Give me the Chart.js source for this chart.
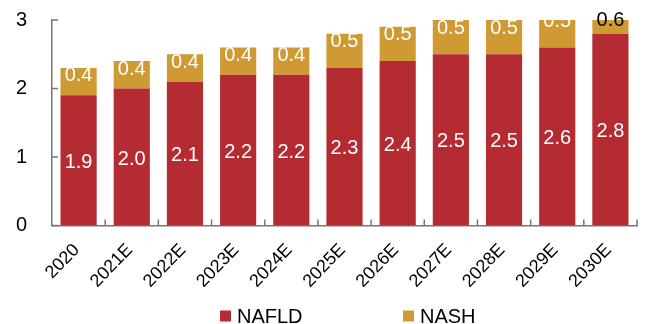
<!DOCTYPE html>
<html>
<head>
<meta charset="utf-8">
<script src="https://cdn.jsdelivr.net/npm/chart.js@4.4.0/dist/chart.umd.min.js"></script>
<style>
  html, body { margin: 0; padding: 0; background: #fff; }
  #wrap { width: 645px; height: 324px; }
</style>
</head>
<body>
<div id="wrap"><canvas id="myChart"></canvas></div>
<script>
// Categories and series values
var years = ['2020', '2021E', '2022E', '2023E', '2024E', '2025E', '2026E', '2027E', '2028E', '2029E', '2030E'];
var nafld = [1.9, 2.0, 2.1, 2.2, 2.2, 2.3, 2.4, 2.5, 2.5, 2.6, 2.8];
var nash = [0.4, 0.4, 0.4, 0.4, 0.4, 0.5, 0.5, 0.5, 0.5, 0.5, 0.6];
var yTicks = [0, 1, 2, 3];

var FONT = 'Liberation Sans, Arial, sans-serif';
var AXIS_COLOR = '#777777';

// Short tick marks drawn inside the plot area
var innerTicks = {
  id: 'innerTicks',
  afterDraw: function(chart) {
    var ctx = chart.ctx;
    var x = chart.scales.x, y = chart.scales.y;
    ctx.save();
    ctx.strokeStyle = AXIS_COLOR;
    ctx.lineWidth = 1.5;
    ctx.beginPath();
    yTicks.forEach(function(v) {
      var py = y.getPixelForValue(v);
      ctx.moveTo(x.left, py);
      ctx.lineTo(x.left + 6, py);
    });
    var step = (x.right - x.left) / years.length;
    for (var i = 1; i <= years.length; i++) {
      var px = x.left + step * i;
      ctx.moveTo(px, y.bottom);
      ctx.lineTo(px, y.bottom - 6);
    }
    ctx.stroke();
    ctx.restore();
  }
};

// Value labels on the bar segments
var valueLabels = {
  id: 'valueLabels',
  afterDatasetsDraw: function(chart) {
    var ctx = chart.ctx;
    var area = chart.chartArea;
    ctx.save();
    ctx.font = '20px ' + FONT;
    ctx.textAlign = 'center';
    ctx.textBaseline = 'middle';
    chart.data.datasets.forEach(function(ds, di) {
      var meta = chart.getDatasetMeta(di);
      meta.data.forEach(function(bar, i) {
        var text = ds.data[i].toFixed(1);
        if (di === 0) {
          ctx.fillStyle = '#ffffff';
          ctx.fillText(text, bar.x, (bar.y + bar.base) / 2 + 2);
          return;
        }
        var ly = bar.y + 8;
        if (ly < area.top - 2) {
          // segment runs off the top of the axis: label sits above it
          ctx.fillStyle = '#000000';
          ctx.fillText(text, bar.x, area.top);
        } else {
          ctx.save();
          ctx.beginPath();
          ctx.rect(area.left, area.top, area.right - area.left, area.bottom - area.top);
          ctx.clip();
          ctx.fillStyle = '#ffffff';
          ctx.fillText(text, bar.x, ly);
          ctx.restore();
        }
      });
    });
    ctx.restore();
  }
};

// Legend row under the axis labels, items spaced wide apart
var wideLegend = {
  id: 'wideLegend',
  afterDraw: function(chart) {
    var ctx = chart.ctx;
    var x0 = 220, step = 183, cy = 316, box = 11;
    ctx.save();
    ctx.font = '20px ' + FONT;
    ctx.textBaseline = 'middle';
    ctx.textAlign = 'left';
    chart.data.datasets.forEach(function(ds, i) {
      var lx = x0 + step * i;
      ctx.fillStyle = ds.backgroundColor;
      ctx.fillRect(lx, cy - box / 2, box, box);
      ctx.fillStyle = '#000';
      ctx.fillText(ds.label, lx + box + 6, cy + 1);
    });
    ctx.restore();
  }
};

var ctx = document.getElementById('myChart').getContext('2d');
var myChart = new Chart(ctx, {
  type: 'bar',
  data: {
    labels: years,
    datasets: [{
      label: 'NAFLD',
      data: nafld,
      backgroundColor: '#b52b32',
      borderWidth: 0,
      clip: 0
    }, {
      label: 'NASH',
      data: nash,
      backgroundColor: '#cf9a34',
      borderWidth: 0,
      clip: 0
    }]
  },
  options: {
    responsive: true,
    maintainAspectRatio: false,
    animation: false,
    datasets: {
      bar: {
        barPercentage: 0.68,
        categoryPercentage: 1.0
      }
    },
    layout: {
      padding: { left: 15, right: 8, top: 20, bottom: 18 }
    },
    scales: {
      x: {
        stacked: true,
        border: { color: AXIS_COLOR, width: 1.5 },
        grid: { display: false, drawTicks: false },
        ticks: {
          color: '#000',
          font: { family: FONT, size: 18 },
          minRotation: 46,
          maxRotation: 46,
          autoSkip: false,
          padding: 14,
          labelOffset: -2
        },
        afterFit: function(scale) {
          // rotated labels may hang past the left edge of the plot
          scale.paddingLeft = 0;
          scale.paddingRight = 0;
        }
      },
      y: {
        stacked: true,
        min: 0,
        max: 3,
        border: { color: AXIS_COLOR, width: 1.5 },
        grid: { display: false, drawTicks: false },
        ticks: {
          color: '#000',
          stepSize: 1,
          padding: 25,
          font: { family: FONT, size: 20 }
        },
        afterFit: function(scale) {
          scale.width = 37;
          scale.paddingTop = 0;
          scale.paddingBottom = 0;
        }
      }
    },
    plugins: {
      legend: { display: false },
      tooltip: { enabled: false }
    }
  },
  plugins: [innerTicks, valueLabels, wideLegend]
});
</script>
</body>
</html>
